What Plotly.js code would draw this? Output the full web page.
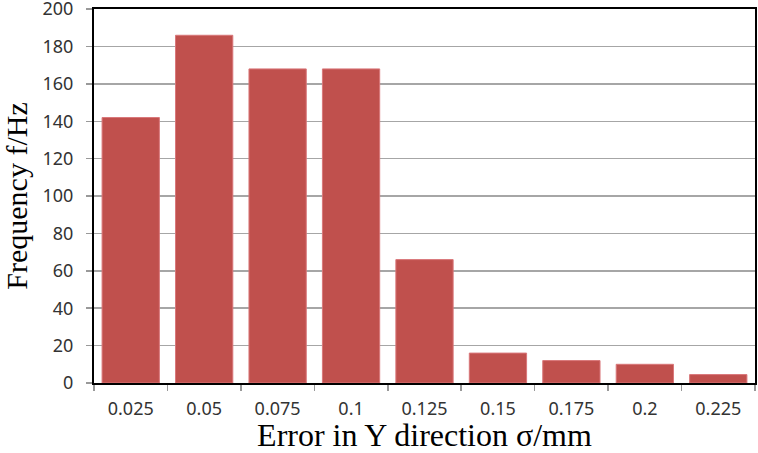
<!DOCTYPE html>
<html>
<head>
<meta charset="utf-8">
<script src="https://cdn.plot.ly/plotly-3.0.1.min.js"></script>
<style>html,body{margin:0;padding:0;background:#fff;}#chart{width:758px;height:453px;}</style>
</head>
<body>
<div id="chart"></div>
<script>
const categories = ["0.025", "0.05", "0.075", "0.1", "0.125", "0.15", "0.175", "0.2", "0.225"];
const frequency = [142, 186, 168, 168, 66, 16, 12, 10, 4.5];
const yTickValues = [0, 20, 40, 60, 80, 100, 120, 140, 160, 180, 200];

const trace = {
  type: "bar",
  x: categories,
  y: frequency,
  marker: {color: "#c0504d", line: {color: "#d9777a", width: 1}},
  hoverinfo: "x+y"
};

const layout = {
  width: 758, height: 453,
  margin: {l: 94, r: 3, t: 9, b: 70},
  paper_bgcolor: "#ffffff",
  plot_bgcolor: "#ffffff",
  bargap: 0.22,
  showlegend: false,
  xaxis: {
    type: "category",
    showline: true, linecolor: "#000000", linewidth: 2, mirror: true,
    ticks: "outside", tickson: "boundaries", ticklen: 6, tickcolor: "#999999", tickwidth: 1.5,
    ticklabelstandoff: 8,
    ticklabeloverflow: "allow",
    showgrid: false,
    tickfont: {family: "Noto Sans, Open Sans, sans-serif", size: 18, color: "#333333"},
    title: {text: "Error in Y direction σ/mm", font: {family: "Liberation Serif, Times New Roman, serif", size: 32, color: "#000000"}, standoff: 7}
  },
  yaxis: {
    range: [0, 200.05],
    tickvals: yTickValues,
    showline: true, linecolor: "#000000", linewidth: 2, mirror: true,
    ticks: "outside", ticklen: 6, tickcolor: "#999999", tickwidth: 1.5,
    ticklabelstandoff: 9,
    ticklabeloverflow: "allow",
    showgrid: true, gridcolor: "#a6a6a6", gridwidth: 1.5,
    zeroline: false,
    tickfont: {family: "Noto Sans, Open Sans, sans-serif", size: 18, color: "#333333"},
    title: {text: "Frequency f/Hz", font: {family: "Liberation Serif, Times New Roman, serif", size: 30, color: "#000000"}, standoff: 16}
  }
};

Plotly.newPlot("chart", [trace], layout, {displayModeBar: false, staticPlot: true});
</script>
</body>
</html>
